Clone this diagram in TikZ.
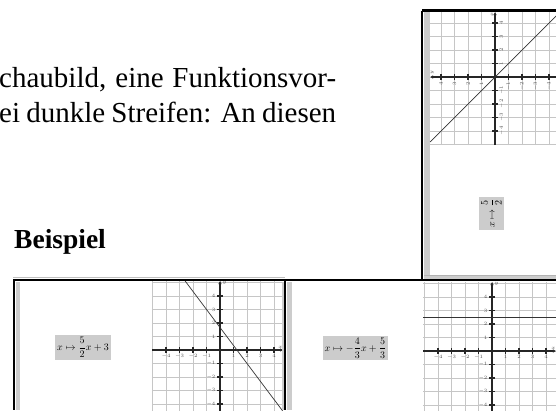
\documentclass[tikz,border=0pt]{standalone}
\usepackage{fontspec}
\setmainfont{Liberation Serif}
\usepackage{amsmath}
\usetikzlibrary{arrows.meta}

\tikzset{
  cardframe/.style={line width=2.4pt, black},
  stripfill/.style={fill=gray!40},
  gridline/.style={gray!45, line width=0.6pt},
  axisline/.style={line width=1.4pt, black!85, -{Latex[length=3pt,width=3.5pt]}},
  tickline/.style={line width=1.1pt, black!85},
  ticklabel/.style={font=\fontsize{4}{4}\selectfont, inner sep=0.4pt, text=black!70, transform shape},
  graphline/.style={line width=0.7pt, black!80},
  labelbox/.style={fill=gray!40, inner sep=2pt, font=\fontsize{10}{12}\selectfont},
  bodytext/.style={anchor=base west, inner sep=0pt, font=\fontsize{29}{35}\selectfont},
}

\begin{document}
\begin{tikzpicture}[x=1pt,y=-1pt]

  \clip (0,0) rectangle (556,410);

  % -------- INPUT --------
  \def\unit{13.5pt}      % one grid square

  % Plane drawing function: name, xmin, xmax, ymin, ymax
  \newcommand{\drawplane}[5]{%
      % grid, cut to the card
      \begin{scope}
          \clip (#2,#4) rectangle (#3,#5);
          \foreach \g in {-6,...,6} {
              \draw[gridline] (\g,#4) -- (\g,#5);
              \draw[gridline] (#2,\g) -- (#3,\g);
          }
      \end{scope}
      % axes
      \draw[axisline] (#2,0) -- (#3,0);
      \draw[axisline] (0,#4) -- (0,#5);
      \foreach \t in {-4,...,-1,1,2,3,4} {
          \draw[tickline] (\t,-0.22) -- (\t,0.22);
          \draw[tickline] (-0.22,\t) -- (0.22,\t);
          \node[ticklabel,anchor=north] (#1x\t) at (\t,-0.3) {$\t$};
          \node[ticklabel,anchor=east] (#1y\t) at (-0.3,\t) {$\t$};
      }
      \node[ticklabel,anchor=south east] (#1xl) at (#3,0.1) {$x$};
      \node[ticklabel,anchor=north west] (#1yl) at (0.15,#5) {$y$};
  }

  % Running text
  \node[bodytext] (textA) at (-1,87) {\makebox[337pt][s]{chaubild, eine Funktionsvor-}};
  \node[bodytext] (textB) at (-1,122) {\makebox[337pt][s]{ei dunkle Streifen: An diesen}};
  \node[bodytext,font=\fontsize{27.5}{33}\selectfont\bfseries] (beispiel) at (14,248) {Beispiel};

  % ---------- Top card (turned) ----------
  \fill[stripfill] (424,12) rectangle (430,275);
  \fill[stripfill] (424,275) rectangle (556,279.5);
  \draw[gray!60,line width=0.8pt] (424,275) -- (556,275);
  \begin{scope}[shift={(495,77)},rotate=90,x=\unit,y=\unit]
      \drawplane{c}{-5.04}{4.81}{-4.52}{4.81}
      \draw[graphline] (-4.81,4.81) -- (4.52,-4.52);
  \end{scope}
  \node[labelbox,rotate=90] (lblC) at (491.5,213.5) {$x\mapsto\dfrac{5}{2}$};
  \draw[cardframe] (422,10.5) -- (556,10.5);
  \draw[cardframe] (422,10.5) -- (422,280);

  % ---------- Bottom left card ----------
  \begin{scope}[shift={(220,350)},x=\unit,y=\unit]
      \drawplane{a}{-5.04}{4.67}{-4.5}{5.11}
      \draw[graphline] (-2.58,5.11) -- (4.63,-4.5);
  \end{scope}
  \fill[stripfill] (15.5,281.5) rectangle (20,410);
  \fill[stripfill] (281.5,281.5) rectangle (284,410);
  \node[labelbox] (lblA) at (83,347.5) {$x\mapsto\dfrac{5}{2}x+3$};

  % ---------- Bottom right card ----------
  \begin{scope}[shift={(492,351)},x=\unit,y=\unit]
      \drawplane{b}{-5.11}{4.74}{-4.5}{5.11}
      \draw[graphline] (-5.11,2.5) -- (4.74,2.5);
  \end{scope}
  \fill[stripfill] (286.5,281.5) rectangle (292,410);
  \node[labelbox] (lblB) at (355.5,348) {$x\mapsto-\dfrac{4}{3}x+\dfrac{5}{3}$};

  % Frames of the bottom cards
  \draw[gray!50,line width=0.8pt] (13,277) -- (285,277);
  \draw[cardframe] (13,280) -- (556,280);
  \draw[cardframe] (14,280) -- (14,410);
  \draw[cardframe] (285,280) -- (285,410);

\end{tikzpicture}
\end{document}
